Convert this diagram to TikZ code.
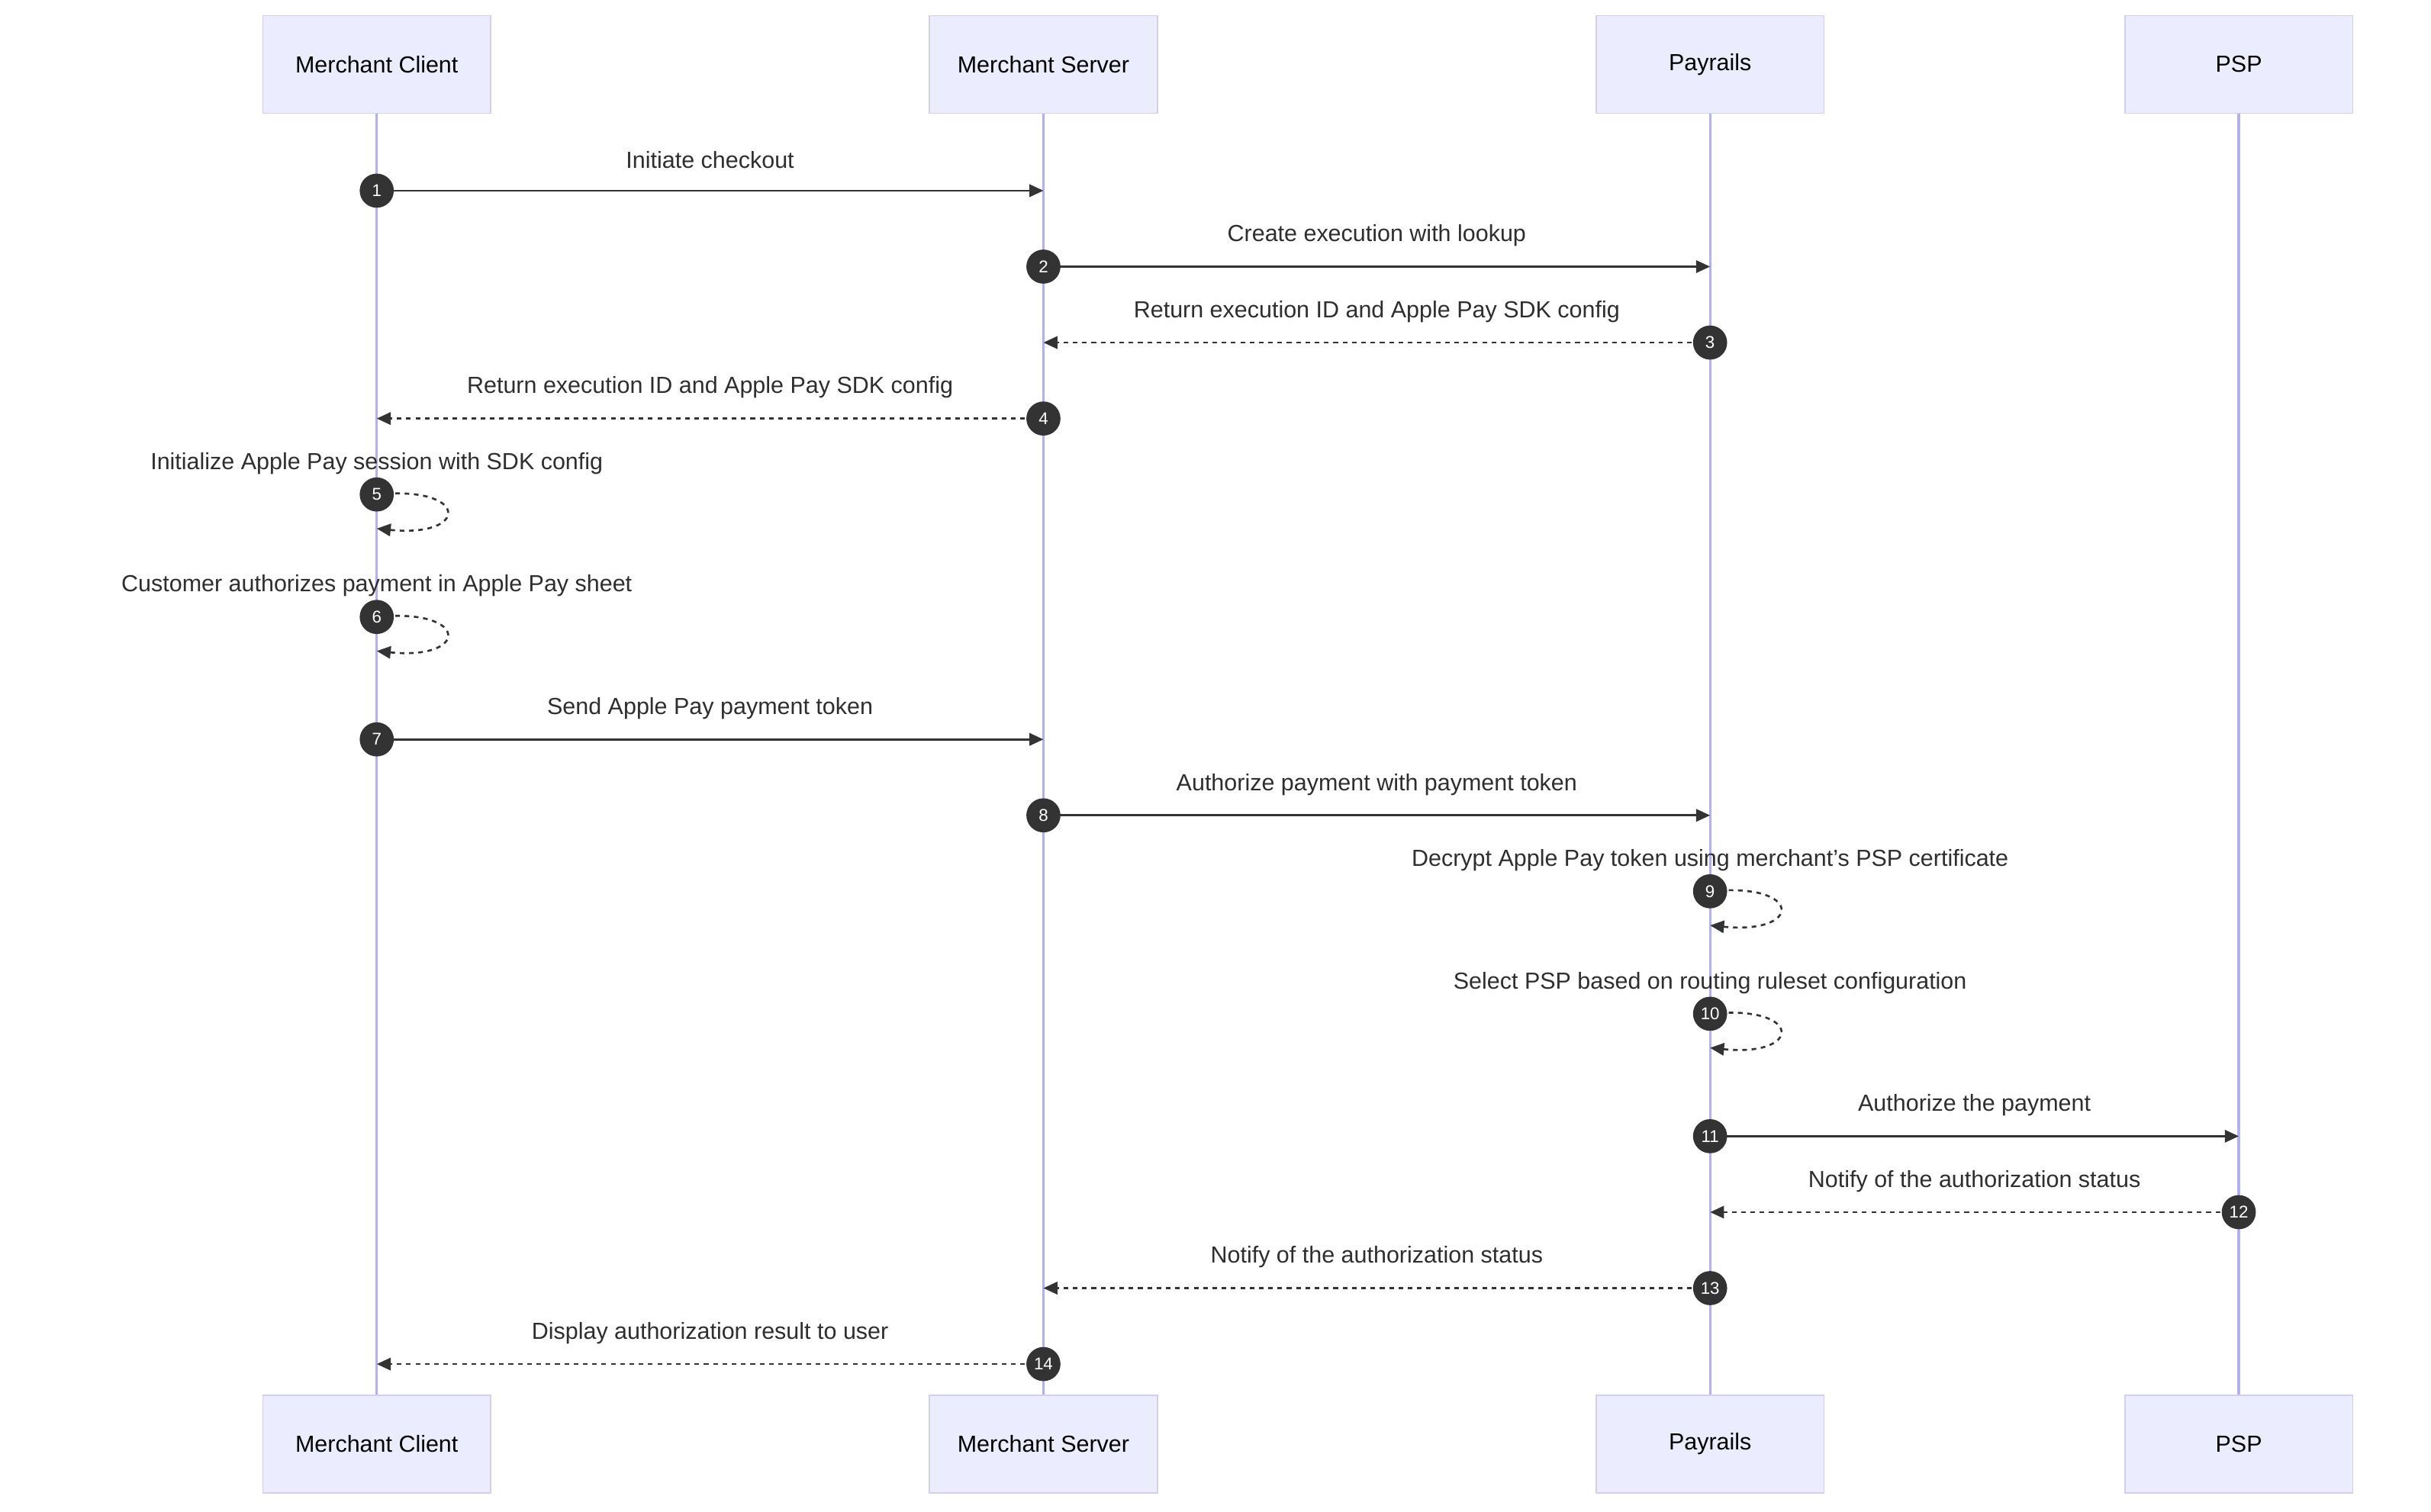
\documentclass[tikz,border=0pt]{standalone}
\usepackage{fontspec}
\setmainfont{Liberation Sans}
\usetikzlibrary{arrows.meta}
\definecolor{actfill}{HTML}{ECECFF}
\definecolor{actdraw}{HTML}{D4CDF5}
\definecolor{life}{HTML}{B3B0F2}
\definecolor{dark}{HTML}{333333}
\tikzset{
  actor/.style={draw=actdraw,fill=actfill,line width=0.8pt,minimum width=147pt,minimum height=63pt,font=\fontsize{15}{18}\selectfont,inner sep=0},
  lifeline/.style={draw=life,line width=1.6pt},
  msg/.style={draw=dark,line width=1.3pt,-{Triangle[length=9pt,width=8pt]}},
  rmsg/.style={msg,dash pattern=on 3pt off 3pt},
  num/.style={circle,fill=dark,text=white,minimum size=22pt,inner sep=0,font=\fontsize{11}{12}\selectfont},
  lbl/.style={font=\fontsize{15}{18}\selectfont,inner sep=0,text=dark!90!black}
}
\newcommand{\mymsg}[6]{% fromx tox y label num style
  \coordinate (s#5) at (#1,#3);
  \coordinate (e#5) at (#2,#3);
  \draw[#6] (s#5) -- (e#5);
  \node[lbl] (l#5) at ($(s#5)!0.5!(e#5)+(0,-20)$) {#4};
  \node[num] (n#5) at (s#5) {#5};
}
\newcommand{\myself}[4]{% x y label num
  \coordinate (s#4) at (#1,#2);
  \coordinate (e#4) at (#1,#2+22);
  \draw[rmsg] (s#4) .. controls (#1+60,#2-6) and (#1+60,#2+28) .. (e#4);
  \node[lbl] (l#4) at (#1,#2-20) {#3};
  \node[num] (n#4) at (s#4) {#4};
}
\usetikzlibrary{calc}
\begin{document}
\begin{tikzpicture}[x=1pt,y=-1pt]
\useasboundingbox (0,0) rectangle (1568,975);
\foreach \nm/\x/\t in {mc/243/Merchant Client,ms/673/Merchant Server,pr/1103/Payrails,psp/1444/PSP}{
  \node[actor] (\nm top) at (\x,41.5) {\t};
  \node[actor] (\nm bot) at (\x,931.5) {\t};
  \draw[lifeline] (\nm top) -- (\nm bot);
}
\mymsg{243}{673}{123}{Initiate checkout}{1}{msg}
\mymsg{673}{1103}{172}{Create execution with lookup}{2}{msg}
\mymsg{1103}{673}{221}{Return execution ID and Apple Pay SDK config}{3}{rmsg}
\mymsg{673}{243}{270}{Return execution ID and Apple Pay SDK config}{4}{rmsg}
\myself{243}{319}{Initialize Apple Pay session with SDK config}{5}
\myself{243}{398}{Customer authorizes payment in Apple Pay sheet}{6}
\mymsg{243}{673}{477}{Send Apple Pay payment token}{7}{msg}
\mymsg{673}{1103}{526}{Authorize payment with payment token}{8}{msg}
\myself{1103}{575}{Decrypt Apple Pay token using merchant's PSP certificate}{9}
\myself{1103}{654}{Select PSP based on routing ruleset configuration}{10}
\mymsg{1103}{1444}{733}{Authorize the payment}{11}{msg}
\mymsg{1444}{1103}{782}{Notify of the authorization status}{12}{rmsg}
\mymsg{1103}{673}{831}{Notify of the authorization status}{13}{rmsg}
\mymsg{673}{243}{880}{Display authorization result to user}{14}{rmsg}
\end{tikzpicture}
\end{document}
